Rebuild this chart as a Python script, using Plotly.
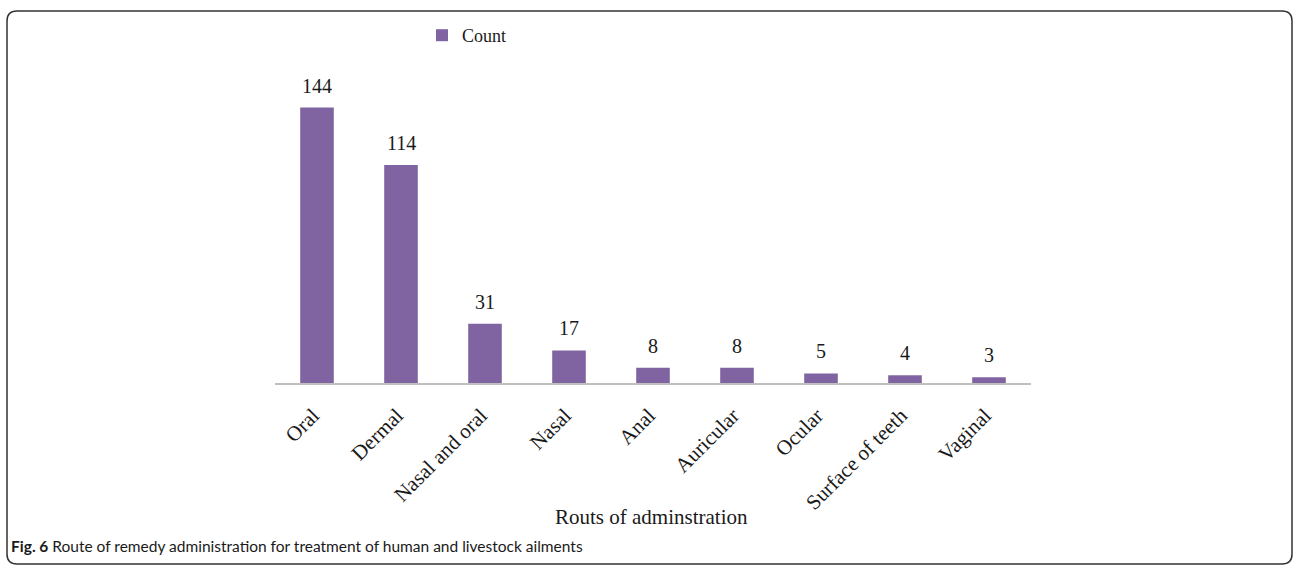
import plotly.graph_objects as go

categories = ["Oral", "Dermal", "Nasal and oral", "Nasal", "Anal", "Auricular",
              "Ocular", "Surface of teeth", "Vaginal"]
counts = [144, 114, 31, 17, 8, 8, 5, 4, 3]
series_name = "Count"
x_title = "Routs of adminstration"
caption_bold = "Fig. 6"
caption_text = " Route of remedy administration for treatment of human and livestock ailments"

W, H = 1295, 565
L, R, T, B = 275, 1031, 77, 383  # plot area in pixels
pw, ph = R - L, B - T


def px(x):
    return (x - L) / pw


def py(y):
    return (B - y) / ph


serif = "Liberation Serif"
ink = "#1a1a1a"

fig = go.Figure()
fig.add_trace(go.Bar(
    x=categories, y=counts, name=series_name,
    marker=dict(color="#8064A2", line=dict(width=0)),
))

# value labels above bars
value_labels = [dict(x=c, y=v, xref="x", yref="y", text=str(v), showarrow=False,
                     xanchor="center", yanchor="bottom", yshift=9,
                     font=dict(family=serif, size=20, color=ink))
                for c, v in zip(categories, counts)]

# rounded frame
x0, x1, y0, y1, r = 7, 1292, 11, 564, 10
path = (f"M {px(x0 + r)},{py(y0)} L {px(x1 - r)},{py(y0)} "
        f"Q {px(x1)},{py(y0)} {px(x1)},{py(y0 + r)} "
        f"L {px(x1)},{py(y1 - r)} Q {px(x1)},{py(y1)} {px(x1 - r)},{py(y1)} "
        f"L {px(x0 + r)},{py(y1)} Q {px(x0)},{py(y1)} {px(x0)},{py(y1 - r)} "
        f"L {px(x0)},{py(y0 + r)} Q {px(x0)},{py(y0)} {px(x0 + r)},{py(y0)} Z")

fig.update_layout(
    width=W, height=H,
    margin=dict(l=L, r=W - R, t=T, b=H - B, pad=0),
    paper_bgcolor="white", plot_bgcolor="white",
    bargap=0.6,
    showlegend=True,
    legend=dict(orientation="h", xref="container", yref="container",
                x=422 / W, y=1 - 17 / H, xanchor="left", yanchor="top",
                font=dict(family=serif, size=18, color=ink),
                bgcolor="rgba(0,0,0,0)"),
    xaxis=dict(showline=True, linecolor="#BFBFBF", linewidth=2,
               ticks="", tickangle=-45, ticklabelstandoff=10, ticklabelshift=-4,
               tickfont=dict(family=serif, size=21, color=ink),
               showgrid=False, zeroline=False),
    yaxis=dict(visible=False, range=[0, 160], showgrid=False, zeroline=False),
    shapes=[dict(type="path", path=path, xref="paper", yref="paper",
                 line=dict(color="#333333", width=1.5), layer="above")],
    annotations=value_labels + [
        dict(text=x_title, xref="paper", yref="paper", x=px(651), y=py(517),
             xanchor="center", yanchor="middle", showarrow=False,
             font=dict(family=serif, size=21, color=ink)),
        dict(text=f"<b>{caption_bold}</b>{caption_text}", xref="paper", yref="paper",
             x=px(9), y=py(546), xanchor="left", yanchor="middle", showarrow=False,
             font=dict(family="Lato", size=15.5, color=ink)),
    ],
)

fig.write_html("out.html")
